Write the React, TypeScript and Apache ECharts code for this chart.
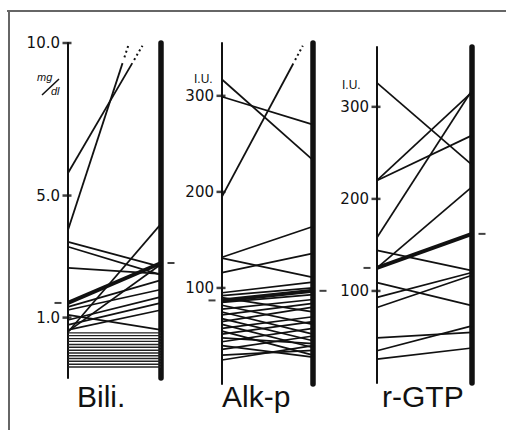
import React, { useEffect, useRef } from "react";
import * as echarts from "echarts";

// ---------- data ----------
const panelNames = ["Bili.", "Alk-p", "r-GTP"];
const biliUnit = ["mg", "dl"];
const enzymeUnit = "I.U.";

// Bilirubin (mg/dl): [before, after]
const biliTicks = [1, 5, 10];
const biliPairs: number[][] = [
  [5.74, 10.95],
  [3.87, 13.2],
  [3.48, 2.66],
  [3.32, 2.4],
  [2.63, 2.43],
  [1.35, 2.23],
  [1.25, 1.92],
  [1.09, 0.6],
  [0.92, 1.68],
  [0.76, 1.48],
  [0.6, 1.25],
  [0.53, 4.07],
  [0.55, 2.75],
];
const biliMean = [1.48, 2.79];
// stacked "normal" cases drawn as a band of level lines
const biliNormal = [0.5, 0.41, 0.31, 0.22, 0.12, 0.03, -0.07, -0.16, -0.25, -0.34, -0.43, -0.53, -0.62];

// Alkaline phosphatase (I.U.)
const alkTicks = [100, 200, 300];
const alkPairs: number[][] = [
  [317, 233],
  [299, 270],
  [195, 372],
  [132, 164],
  [131, 111],
  [116, 136],
  [95, 106],
  [92, 100],
  [90, 75],
  [85, 93],
  [82, 62],
  [78, 88],
  [75, 52],
  [72, 84],
  [68, 45],
  [65, 80],
  [62, 38],
  [58, 70],
  [55, 30],
  [52, 65],
  [48, 42],
  [44, 58],
  [40, 28],
  [36, 50],
  [30, 35],
  [25, 40],
];
const alkMean = [87, 97];

// gamma-GTP (I.U.)
const gtpTicks = [100, 200, 300];
const gtpPairs: number[][] = [
  [326, 237],
  [220, 316],
  [220, 269],
  [158, 318],
  [125, 213],
  [144, 122],
  [109, 84],
  [93, 120],
  [82, 117],
  [49, 55],
  [35, 62],
  [26, 38],
];
const gtpMean = [125, 162];

// ---------- layout ----------
const INK = "#111";
const FONT = "'Liberation Sans', Arial, sans-serif";
const NUMFONT = "'DejaVu Sans', 'Liberation Sans', sans-serif";

type Panel = {
  left: number; top: number; width: number; height: number;
  min: number; max: number; digits: number;
  ticks: number[]; pairs: number[][]; mean: number[]; normal: number[];
  titleX: number;
};

const panels: Panel[] = [
  { left: 68, top: 43, width: 93, height: 335, min: -0.98, max: 10, digits: 1,
    ticks: biliTicks, pairs: biliPairs, mean: biliMean, normal: biliNormal, titleX: 77 },
  { left: 222, top: 43, width: 91, height: 341, min: 0, max: 355, digits: 0,
    ticks: alkTicks, pairs: alkPairs, mean: alkMean, normal: [], titleX: 222 },
  { left: 377, top: 47, width: 95, height: 336, min: 0, max: 365, digits: 0,
    ticks: gtpTicks, pairs: gtpPairs, mean: gtpMean, normal: [], titleX: 382 },
];

function buildOption() {
  const grid: any[] = [];
  const xAxis: any[] = [];
  const yAxis: any[] = [];
  const series: any[] = [];

  panels.forEach((p, i) => {
    grid.push({ left: p.left, top: p.top, width: p.width, height: p.height, show: false });
    xAxis.push({ type: "value", gridIndex: i, min: 0, max: 1, show: false });
    yAxis.push({
      type: "value", gridIndex: i, min: p.min, max: p.max, position: "left",
      splitLine: { show: false },
      axisTick: { show: false },
      axisLine: { show: true, lineStyle: { color: INK, width: 2 } },
      axisLabel: {
        show: true, customValues: p.ticks, margin: 8,
        color: INK, fontSize: 15, fontFamily: NUMFONT,
        formatter: (v: number) => v.toFixed(p.digits),
      },
    });
    yAxis.push({
      type: "value", gridIndex: i, min: p.min, max: p.max, position: "right",
      splitLine: { show: false }, axisTick: { show: false }, axisLabel: { show: false },
      axisLine: { show: true, lineStyle: { color: INK, width: 5.5 } },
    });
    const yIdx = i * 2;
    const range = p.max - p.min;

    // normal band
    p.normal.forEach((v) => {
      series.push({
        type: "line", xAxisIndex: i, yAxisIndex: yIdx, symbol: "none", silent: true,
        data: [[0, v], [1, v]], lineStyle: { color: "#222", width: 1.4 },
      });
    });

    // individual patients
    p.pairs.forEach(([a, b]) => {
      if (b <= p.max) {
        series.push({
          type: "line", xAxisIndex: i, yAxisIndex: yIdx, symbol: "none", silent: true,
          data: [[0, a], [1, b]], lineStyle: { color: INK, width: 1.7 },
        });
      } else {
        const solidEnd = p.max - 0.06 * range;
        const dotEnd = p.max - 0.008 * range;
        const t1 = (solidEnd - a) / (b - a);
        const t2 = (dotEnd - a) / (b - a);
        series.push({
          type: "line", xAxisIndex: i, yAxisIndex: yIdx, symbol: "none", silent: true,
          data: [[0, a], [t1, solidEnd]], lineStyle: { color: INK, width: 1.8 },
        });
        series.push({
          type: "line", xAxisIndex: i, yAxisIndex: yIdx, symbol: "none", silent: true,
          data: [[t1 + 0.02, solidEnd + 0.02 * (b - a)], [t2, dotEnd]],
          lineStyle: { color: INK, width: 2, type: [2, 3] },
        });
      }
    });

    // mean line (thick)
    series.push({
      type: "line", xAxisIndex: i, yAxisIndex: yIdx, symbol: "none", silent: true,
      data: [[0, p.mean[0]], [1, p.mean[1]]], lineStyle: { color: INK, width: 4 },
    });

    // axis ticks
    series.push({
      type: "scatter", xAxisIndex: i, yAxisIndex: yIdx, clip: false, silent: true,
      symbol: "rect", symbolSize: [9, 2.5], symbolOffset: [-1, 0],
      itemStyle: { color: INK },
      data: p.ticks.map((t) => [0, t]),
    });

    // mean markers
    series.push({
      type: "scatter", xAxisIndex: i, yAxisIndex: yIdx, clip: false, silent: true,
      symbol: "rect", symbolSize: [7, 2], symbolOffset: [-10, 0],
      itemStyle: { color: INK }, data: [[0, p.mean[0]]],
    });
    series.push({
      type: "scatter", xAxisIndex: i, yAxisIndex: yIdx, clip: false, silent: true,
      symbol: "rect", symbolSize: [7, 2], symbolOffset: [10, 0],
      itemStyle: { color: INK }, data: [[1, p.mean[1]]],
    });
  });

  const graphic: any[] = [
    // scan frame
    { type: "line", shape: { x1: 7, y1: 11, x2: 506, y2: 11 }, style: { stroke: "#333", lineWidth: 1.5 } },
    { type: "line", shape: { x1: 9, y1: 12, x2: 9, y2: 430 }, style: { stroke: "#333", lineWidth: 1.5 } },
    // units
    { type: "text", x: 37, y: 77, style: { text: biliUnit[0], font: `italic 11px ${FONT}`, fill: INK, textVerticalAlign: "middle" } },
    { type: "line", shape: { x1: 42, y1: 95, x2: 59, y2: 79 }, style: { stroke: INK, lineWidth: 1.5 } },
    { type: "text", x: 51, y: 91, style: { text: biliUnit[1], font: `italic 11px ${FONT}`, fill: INK, textVerticalAlign: "middle" } },
    { type: "text", x: 194, y: 79, style: { text: enzymeUnit, font: `12px ${FONT}`, fill: INK, textVerticalAlign: "middle" } },
    { type: "text", x: 342, y: 85, style: { text: enzymeUnit, font: `12px ${FONT}`, fill: INK, textVerticalAlign: "middle" } },
  ];
  // panel titles
  panels.forEach((p, i) => {
    graphic.push({
      type: "text", x: p.titleX, y: 396,
      style: { text: panelNames[i], font: `30px ${FONT}`, fill: INK, textVerticalAlign: "middle" },
    });
  });

  return {
    animation: false,
    backgroundColor: "#ffffff",
    grid, xAxis, yAxis, series, graphic,
  };
}

export default function App() {
  const ref = useRef<HTMLDivElement>(null);
  useEffect(() => {
    if (!ref.current) return;
    const chart = echarts.init(ref.current, undefined, { renderer: "svg" });
    chart.setOption(buildOption() as any);
    return () => chart.dispose();
  }, []);
  return (
    <div
      ref={ref}
      style={{ position: "fixed", left: 0, top: 0, width: 508, height: 439, background: "#fff" }}
    />
  );
}
